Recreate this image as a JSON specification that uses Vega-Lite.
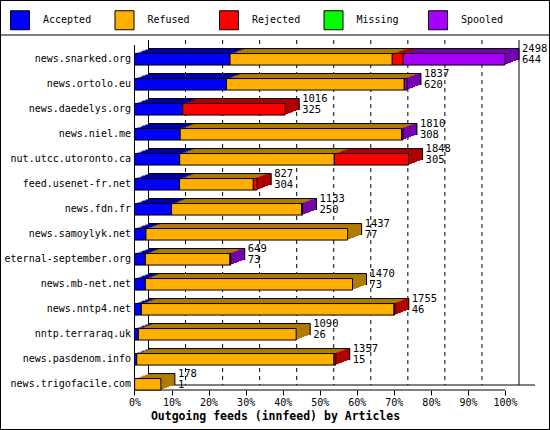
{
  "$schema": "https://vega.github.io/schema/vega-lite/v6.json",
  "width": 550,
  "height": 430,
  "padding": 0,
  "autosize": {"type": "none"},
  "background": "white",
  "config": {
    "font": "DejaVu Sans Mono",
    "view": {"stroke": "black", "strokeWidth": 2}
  },
  "datasets": {
    "seg": [
      {"host": "news.snarked.org", "status": "Accepted", "n": 644},
      {"host": "news.snarked.org", "status": "Refused", "n": 1094},
      {"host": "news.snarked.org", "status": "Rejected", "n": 74},
      {"host": "news.snarked.org", "status": "Spooled", "n": 686},
      {"host": "news.ortolo.eu", "status": "Accepted", "n": 620},
      {"host": "news.ortolo.eu", "status": "Refused", "n": 1199},
      {"host": "news.ortolo.eu", "status": "Spooled", "n": 18},
      {"host": "news.daedelys.org", "status": "Accepted", "n": 325},
      {"host": "news.daedelys.org", "status": "Rejected", "n": 691},
      {"host": "news.niel.me", "status": "Accepted", "n": 308},
      {"host": "news.niel.me", "status": "Refused", "n": 1493},
      {"host": "news.niel.me", "status": "Spooled", "n": 9},
      {"host": "nut.utcc.utoronto.ca", "status": "Accepted", "n": 305},
      {"host": "nut.utcc.utoronto.ca", "status": "Refused", "n": 1042},
      {"host": "nut.utcc.utoronto.ca", "status": "Rejected", "n": 501},
      {"host": "feed.usenet-fr.net", "status": "Accepted", "n": 304},
      {"host": "feed.usenet-fr.net", "status": "Refused", "n": 497},
      {"host": "feed.usenet-fr.net", "status": "Rejected", "n": 26},
      {"host": "news.fdn.fr", "status": "Accepted", "n": 250},
      {"host": "news.fdn.fr", "status": "Refused", "n": 877},
      {"host": "news.fdn.fr", "status": "Spooled", "n": 6},
      {"host": "news.samoylyk.net", "status": "Accepted", "n": 77},
      {"host": "news.samoylyk.net", "status": "Refused", "n": 1360},
      {"host": "eternal-september.org", "status": "Accepted", "n": 73},
      {"host": "eternal-september.org", "status": "Refused", "n": 571},
      {"host": "eternal-september.org", "status": "Spooled", "n": 5},
      {"host": "news.mb-net.net", "status": "Accepted", "n": 73},
      {"host": "news.mb-net.net", "status": "Refused", "n": 1397},
      {"host": "news.nntp4.net", "status": "Accepted", "n": 46},
      {"host": "news.nntp4.net", "status": "Refused", "n": 1704},
      {"host": "news.nntp4.net", "status": "Rejected", "n": 5},
      {"host": "nntp.terraraq.uk", "status": "Accepted", "n": 26},
      {"host": "nntp.terraraq.uk", "status": "Refused", "n": 1064},
      {"host": "news.pasdenom.info", "status": "Accepted", "n": 15},
      {"host": "news.pasdenom.info", "status": "Refused", "n": 1330},
      {"host": "news.pasdenom.info", "status": "Rejected", "n": 12},
      {"host": "news.trigofacile.com", "status": "Accepted", "n": 1},
      {"host": "news.trigofacile.com", "status": "Refused", "n": 177}
    ],
    "tot": [
      {"host": "news.snarked.org", "total": 2498, "accepted": 644, "last": "Spooled"},
      {"host": "news.ortolo.eu", "total": 1837, "accepted": 620, "last": "Spooled"},
      {"host": "news.daedelys.org", "total": 1016, "accepted": 325, "last": "Rejected"},
      {"host": "news.niel.me", "total": 1810, "accepted": 308, "last": "Spooled"},
      {"host": "nut.utcc.utoronto.ca", "total": 1848, "accepted": 305, "last": "Rejected"},
      {"host": "feed.usenet-fr.net", "total": 827, "accepted": 304, "last": "Rejected"},
      {"host": "news.fdn.fr", "total": 1133, "accepted": 250, "last": "Spooled"},
      {"host": "news.samoylyk.net", "total": 1437, "accepted": 77, "last": "Refused"},
      {"host": "eternal-september.org", "total": 649, "accepted": 73, "last": "Spooled"},
      {"host": "news.mb-net.net", "total": 1470, "accepted": 73, "last": "Refused"},
      {"host": "news.nntp4.net", "total": 1755, "accepted": 46, "last": "Rejected"},
      {"host": "nntp.terraraq.uk", "total": 1090, "accepted": 26, "last": "Refused"},
      {"host": "news.pasdenom.info", "total": 1357, "accepted": 15, "last": "Rejected"},
      {"host": "news.trigofacile.com", "total": 178, "accepted": 1, "last": "Refused"}
    ],
    "grid": [
      {"v": 249.8}, {"v": 499.6}, {"v": 749.4}, {"v": 999.2}, {"v": 1249},
      {"v": 1498.8}, {"v": 1748.6}, {"v": 1998.4}, {"v": 2248.2}
    ],
    "walls": [{"v": 0}, {"v": 2498}],
    "one": [{"k": 1}]
  },
  "layer": [
    {
      "data": {"name": "one"},
      "mark": {"type": "rule", "color": "black", "strokeWidth": 1, "yOffset": -24.3},
      "encoding": {
        "x": {"datum": -906.8, "type": "quantitative"},
        "x2": {"datum": 2801.4},
        "y": {"datum": "news.snarked.org", "type": "nominal"}
      }
    },
    {
      "data": {"name": "grid"},
      "mark": {"type": "rule", "color": "black", "strokeWidth": 1, "strokeDash": [4, 4], "xOffset": 14, "x2Offset": 14, "yOffset": -19.3, "y2Offset": 0.7},
      "encoding": {
        "x": {"field": "v", "type": "quantitative"},
        "y": {"datum": "news.snarked.org", "type": "nominal"},
        "y2": {"datum": "news.trigofacile.com"}
      }
    },
    {
      "data": {"name": "walls"},
      "mark": {"type": "rule", "color": "black", "strokeWidth": 1, "xOffset": 14, "x2Offset": 14, "yOffset": -19.3, "y2Offset": 0.7},
      "encoding": {
        "x": {"field": "v", "type": "quantitative"},
        "y": {"datum": "news.snarked.org", "type": "nominal"},
        "y2": {"datum": "news.trigofacile.com"}
      }
    },
    {
      "data": {"name": "one"},
      "mark": {"type": "rule", "color": "black", "strokeWidth": 1, "yOffset": -14.3, "y2Offset": 5.7},
      "encoding": {
        "x": {"datum": 0, "type": "quantitative"},
        "y": {"datum": "news.snarked.org", "type": "nominal"},
        "y2": {"datum": "news.trigofacile.com"}
      }
    },
    {
      "data": {"name": "one"},
      "mark": {"type": "rule", "color": "black", "strokeWidth": 1, "xOffset": 14, "x2Offset": 30, "yOffset": 0.7},
      "encoding": {
        "x": {"datum": 0, "type": "quantitative"},
        "x2": {"datum": 2498},
        "y": {"datum": "news.trigofacile.com", "type": "nominal"}
      }
    },
    {
      "data": {"name": "one"},
      "mark": {"type": "rule", "color": "black", "strokeWidth": 1, "yOffset": 5.7},
      "encoding": {
        "x": {"datum": 0, "type": "quantitative"},
        "x2": {"datum": 2498},
        "y": {"datum": "news.trigofacile.com", "type": "nominal"}
      }
    },
    {
      "data": {"name": "seg"},
      "mark": {"type": "bar", "xOffset": 14, "x2Offset": 14, "yOffset": -5, "y2Offset": -5},
      "encoding": {
        "y": {"field": "host", "type": "nominal"},
        "x": {"field": "n", "type": "quantitative", "stack": "zero"},
        "fill": {"field": "status", "type": "nominal", "legend": null,
          "scale": {"domain": ["Spooled", "Missing", "Rejected", "Refused", "Accepted"], "range": ["#7400B0", "#00A800", "#B00000", "#B07C00", "#0000A8"]}}
      }
    },
    {
      "data": {"name": "seg"},
      "mark": {"type": "bar", "xOffset": 11, "x2Offset": 11, "yOffset": -4, "y2Offset": -4},
      "encoding": {
        "y": {"field": "host", "type": "nominal"},
        "x": {"field": "n", "type": "quantitative", "stack": "zero"},
        "fill": {"field": "status", "type": "nominal", "legend": null}
      }
    },
    {
      "data": {"name": "seg"},
      "mark": {"type": "bar", "xOffset": 8, "x2Offset": 8, "yOffset": -3, "y2Offset": -3},
      "encoding": {
        "y": {"field": "host", "type": "nominal"},
        "x": {"field": "n", "type": "quantitative", "stack": "zero"},
        "fill": {"field": "status", "type": "nominal", "legend": null}
      }
    },
    {
      "data": {"name": "seg"},
      "mark": {"type": "bar", "xOffset": 6, "x2Offset": 6, "yOffset": -2, "y2Offset": -2},
      "encoding": {
        "y": {"field": "host", "type": "nominal"},
        "x": {"field": "n", "type": "quantitative", "stack": "zero"},
        "fill": {"field": "status", "type": "nominal", "legend": null}
      }
    },
    {
      "data": {"name": "seg"},
      "mark": {"type": "bar", "xOffset": 3, "x2Offset": 3, "yOffset": -1, "y2Offset": -1},
      "encoding": {
        "y": {"field": "host", "type": "nominal"},
        "x": {"field": "n", "type": "quantitative", "stack": "zero"},
        "fill": {"field": "status", "type": "nominal", "legend": null}
      }
    },
    {
      "data": {"name": "tot"},
      "mark": {"type": "bar", "xOffset": 0, "x2Offset": 3, "yOffset": -1, "y2Offset": -1},
      "encoding": {
        "y": {"field": "host", "type": "nominal"},
        "x": {"field": "total", "type": "quantitative"},
        "x2": {"field": "total"},
        "fill": {"field": "last", "type": "nominal", "legend": null}
      }
    },
    {
      "data": {"name": "tot"},
      "mark": {"type": "bar", "xOffset": 3, "x2Offset": 6, "yOffset": -2, "y2Offset": -2},
      "encoding": {
        "y": {"field": "host", "type": "nominal"},
        "x": {"field": "total", "type": "quantitative"},
        "x2": {"field": "total"},
        "fill": {"field": "last", "type": "nominal", "legend": null}
      }
    },
    {
      "data": {"name": "tot"},
      "mark": {"type": "bar", "xOffset": 6, "x2Offset": 8, "yOffset": -3, "y2Offset": -3},
      "encoding": {
        "y": {"field": "host", "type": "nominal"},
        "x": {"field": "total", "type": "quantitative"},
        "x2": {"field": "total"},
        "fill": {"field": "last", "type": "nominal", "legend": null}
      }
    },
    {
      "data": {"name": "tot"},
      "mark": {"type": "bar", "xOffset": 8, "x2Offset": 11, "yOffset": -4, "y2Offset": -4},
      "encoding": {
        "y": {"field": "host", "type": "nominal"},
        "x": {"field": "total", "type": "quantitative"},
        "x2": {"field": "total"},
        "fill": {"field": "last", "type": "nominal", "legend": null}
      }
    },
    {
      "data": {"name": "tot"},
      "mark": {"type": "bar", "xOffset": 11, "x2Offset": 14, "yOffset": -5, "y2Offset": -5},
      "encoding": {
        "y": {"field": "host", "type": "nominal"},
        "x": {"field": "total", "type": "quantitative"},
        "x2": {"field": "total"},
        "fill": {"field": "last", "type": "nominal", "legend": null}
      }
    },
    {
      "data": {"name": "tot"},
      "mark": {"type": "rule", "color": "black", "strokeWidth": 1, "xOffset": 14, "x2Offset": 14, "yOffset": -10.75},
      "encoding": {
        "y": {"field": "host", "type": "nominal"},
        "x": {"field": "total", "type": "quantitative"},
        "x2": {"datum": 0}
      }
    },
    {
      "data": {"name": "tot"},
      "mark": {"type": "rule", "color": "black", "strokeWidth": 1, "xOffset": 14, "yOffset": -10.75, "y2Offset": 0.75},
      "encoding": {
        "x": {"field": "total", "type": "quantitative"},
        "y": {"field": "host", "type": "nominal"},
        "y2": {"field": "host"}
      }
    },
    {
      "data": {"name": "seg"},
      "mark": {"type": "bar", "stroke": "black", "strokeWidth": 1},
      "encoding": {
        "y": {"field": "host", "type": "nominal",
          "scale": {"domain": ["news.snarked.org", "news.ortolo.eu", "news.daedelys.org", "news.niel.me", "nut.utcc.utoronto.ca", "feed.usenet-fr.net", "news.fdn.fr", "news.samoylyk.net", "eternal-september.org", "news.mb-net.net", "news.nntp4.net", "nntp.terraraq.uk", "news.pasdenom.info", "news.trigofacile.com"],
            "range": [53.55, 390.05], "paddingInner": 0.54, "paddingOuter": 0, "round": false},
          "axis": {"orient": "left", "offset": -134.5, "domain": false, "ticks": false, "grid": false, "labelPadding": 4, "labelFont": "DejaVu Sans Mono", "labelFontSize": 10, "labelColor": "black", "title": null}},
        "x": {"field": "n", "type": "quantitative", "stack": "zero",
          "scale": {"domain": [-906.8, 2801.4], "nice": false, "zero": false},
          "axis": {"orient": "bottom", "offset": -40, "domain": false, "grid": false, "ticks": true, "tickSize": 5, "tickColor": "black",
            "values": [0, 249.8, 499.6, 749.4, 999.2, 1249, 1498.8, 1748.6, 1998.4, 2248.2, 2498],
            "labelExpr": "round(datum.value / 24.98) + '%'", "labelFont": "DejaVu Sans Mono", "labelFontSize": 10, "labelColor": "black", "labelPadding": 2,
            "title": "Outgoing feeds (innfeed) by Articles", "titleFont": "DejaVu Sans Mono", "titleFontSize": 11.5, "titleFontWeight": "bold", "titleColor": "black", "titlePadding": 3}},
        "color": {"field": "status", "type": "nominal",
          "scale": {"domain": ["Accepted", "Refused", "Rejected", "Missing", "Spooled"], "range": ["#0000FF", "#FFAF00", "#FF0000", "#00FF00", "#A800FF"]},
          "legend": {"orient": "none", "legendX": 10, "legendY": 10, "direction": "horizontal", "columns": 5, "gridAlign": "all", "title": null,
            "symbolType": "square", "symbolSize": 361, "symbolStrokeColor": "black", "symbolStrokeWidth": 1, "symbolOpacity": 1,
            "labelFont": "DejaVu Sans Mono", "labelFontSize": 10, "labelColor": "black", "labelOffset": 13, "columnPadding": 20.5}}
      }
    },
    {
      "data": {"name": "tot"},
      "mark": {"type": "text", "align": "left", "baseline": "middle", "dx": 17, "dy": -10, "fontSize": 10.5, "font": "DejaVu Sans Mono", "color": "black"},
      "encoding": {
        "y": {"field": "host", "type": "nominal"},
        "x": {"field": "total", "type": "quantitative"},
        "text": {"field": "total", "type": "quantitative"}
      }
    },
    {
      "data": {"name": "tot"},
      "mark": {"type": "text", "align": "left", "baseline": "middle", "dx": 17, "dy": 1, "fontSize": 10.5, "font": "DejaVu Sans Mono", "color": "black"},
      "encoding": {
        "y": {"field": "host", "type": "nominal"},
        "x": {"field": "total", "type": "quantitative"},
        "text": {"field": "accepted", "type": "quantitative"}
      }
    }
  ]
}
